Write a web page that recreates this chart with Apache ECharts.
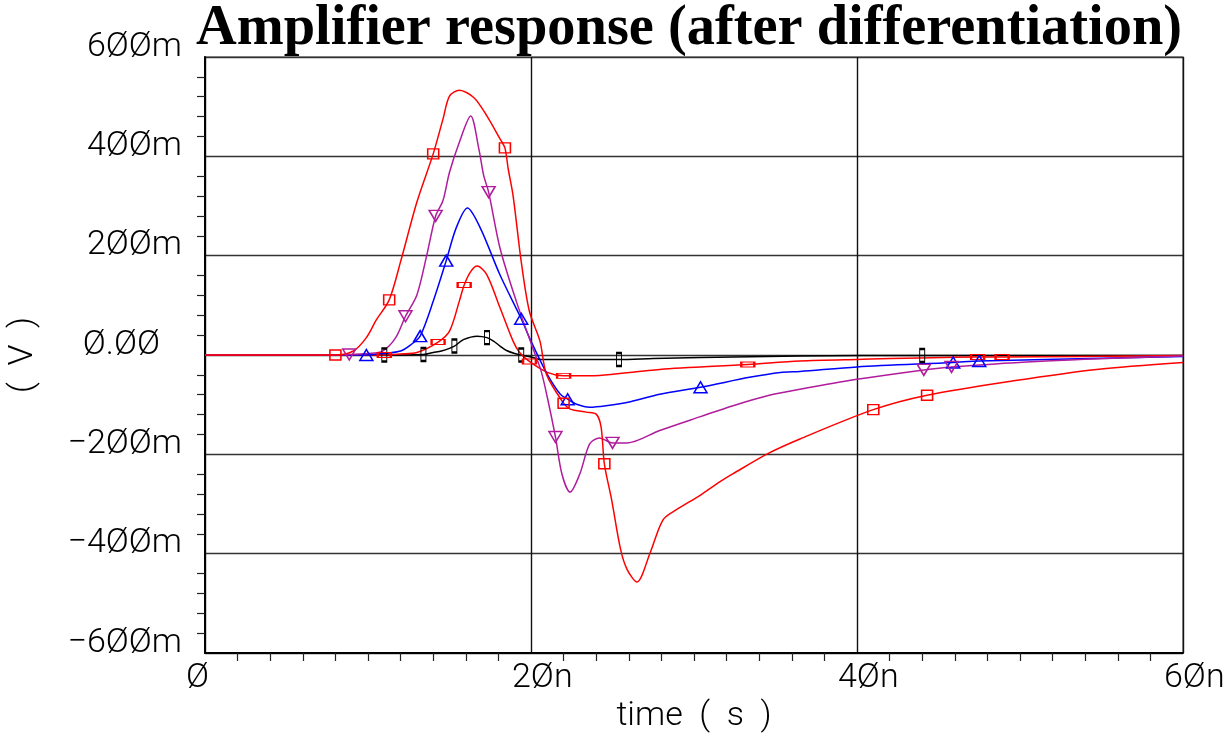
<!DOCTYPE html>
<html>
<head>
<meta charset="utf-8">
<script src="https://cdn.jsdelivr.net/npm/echarts@6/dist/echarts.min.js"></script>
<style>
  html, body { margin: 0; padding: 0; background: #fff; }
  #chart { width: 1229px; height: 734px; }
</style>
</head>
<body>
<div id="chart"></div>
<script>
// Time in ns, amplitude in mV.
const xTickValues = [0, 20, 40, 60];
const xTickLabels = ['Ø', '2Øn', '4Øn', '6Øn'];
const yTickValues = [-600, -400, -200, 0, 200, 400, 600];
const yTickLabels = ['−6ØØm', '−4ØØm', '−2ØØm', 'Ø.ØØ', '2ØØm', '4ØØm', '6ØØm'];

// Largest response (red, square markers)
const redSquareCurve = [
  [0, 0], [6, 0], [8.0, 0], [9.1, 8], [9.9, 35], [10.5, 70], [11.3, 111], [12.0, 188],
  [13.0, 308], [14.0, 405], [14.6, 475], [15.0, 521], [15.6, 533], [16.5, 518],
  [17.3, 481], [18.1, 435], [18.4, 417], [18.6, 375], [18.9, 321], [19.4, 188],
  [19.9, 88], [20.55, 28], [20.95, -39], [22.0, -97], [22.4, -109], [23.4, -115],
  [24.0, -119], [24.3, -145], [24.5, -219], [24.95, -292], [25.5, -392], [25.9, -432],
  [26.5, -457], [27.3, -399], [28.1, -332], [28.9, -312], [30.4, -282], [31.6, -255],
  [32.4, -239], [34.5, -199], [36.5, -169], [41.0, -110], [44.3, -81], [49.6, -52],
  [54.7, -29], [60, -15]
];
const redSquareMarks = [8.0, 11.3, 14.0, 18.4, 22.0, 24.5, 41.0, 44.3];

// Magenta, down-triangle markers
const magentaCurve = [
  [0, 0], [7, 0], [8.85, 1], [10.0, 3], [10.9, 8], [11.7, 35], [12.3, 78], [13.0, 121],
  [13.6, 200], [14.15, 280], [14.6, 311], [15.0, 368], [15.6, 428], [16.3, 481],
  [16.8, 415], [17.1, 361], [17.4, 328], [18.1, 215], [19.1, 108], [20.1, 15],
  [20.6, -30], [21.0, -85], [21.5, -165], [21.9, -240], [22.4, -276], [23.0, -239],
  [23.6, -179], [24.2, -167], [25.0, -177], [25.9, -177], [27.9, -152], [30.4, -124],
  [32.4, -102], [34.5, -82], [36.5, -69], [40.0, -49], [44.1, -30], [45.8, -24],
  [51.6, -12], [60, -2]
];
const magentaMarks = [8.85, 12.3, 14.15, 17.4, 21.5, 25.0, 44.1, 45.8];

// Blue, up-triangle markers
const blueCurve = [
  [0, 0], [7, 0], [9.9, 0], [11.0, 3], [12.0, 8], [12.6, 20], [13.2, 38], [14.0, 108],
  [14.8, 190], [15.4, 255], [16.1, 296], [16.9, 255], [18.1, 161], [19.4, 73],
  [20.0, 28], [21.0, -39], [21.8, -79], [22.25, -89], [22.8, -99], [23.6, -105],
  [24.6, -102], [26.1, -94], [27.9, -79], [30.4, -65], [33.4, -45], [35.3, -35],
  [36.5, -33], [40.0, -24], [45.9, -15], [47.5, -12], [60, -3]
];
const blueMarks = [9.9, 13.2, 14.8, 19.4, 22.25, 30.4, 45.9, 47.5];

// Smaller red response, flat rectangle markers
const redDashCurve = [
  [0, 0], [9, 0], [11.0, 0], [12.0, 2], [13.0, 5], [14.3, 26], [15.0, 48], [15.6, 108],
  [15.9, 141], [16.3, 168], [16.7, 179], [17.3, 161], [18.1, 95], [18.9, 28],
  [19.3, 5], [19.9, -13], [21.0, -35], [22.0, -42], [23.4, -42], [27.9, -29],
  [33.3, -19], [36.5, -12], [40.0, -9], [47.4, -4], [48.9, -4], [60, -1]
];
const redDashMarks = [11.0, 14.3, 15.9, 19.9, 22.0, 33.3, 47.4, 48.9];

// Smallest response (black, tall rectangle markers)
const blackCurve = [
  [0, 0], [9, 0], [11.0, 0], [13.4, 1], [14.0, 5], [14.5, 8], [15.3, 18], [15.85, 31],
  [16.7, 38], [17.3, 35], [17.7, 28], [18.1, 18], [18.5, 9], [19.0, 3], [19.4, 0],
  [20.1, -5], [20.6, -9], [21.2, -9], [25.4, -9], [27.5, -7], [30.4, -5], [36.5, -2],
  [44.0, -1], [60, -1]
];
const blackMarks = [11.0, 13.4, 15.3, 17.3, 19.4, 25.4, 44.0];

const tickFont = 'Roboto';

function buildSeries(curve, marks, color, symbol, size, rotate) {
  return {
    type: 'line',
    smooth: 0.3,
    showSymbol: true,
    symbol: symbol,
    symbolSize: size,
    symbolRotate: rotate || 0,
    lineStyle: { color: color, width: 1.5 },
    itemStyle: { color: 'rgba(0,0,0,0)', borderColor: color, borderWidth: 1.5 },
    emphasis: { disabled: true },
    animation: false,
    data: curve.map(function (p) {
      const marked = marks.indexOf(p[0]) !== -1;
      return marked ? { value: p } : { value: p, symbol: 'none' };
    })
  };
}

const chart = echarts.init(document.getElementById('chart'), null, { renderer: 'canvas' });
chart.setOption({
  backgroundColor: '#ffffff',
  animation: false,
  title: {
    text: 'Amplifier response (after differentiation)',
    left: 191,
    top: -4,
    textStyle: {
      fontFamily: 'Liberation Serif',
      fontWeight: 'bold',
      fontSize: 56.4,
      color: '#000'
    }
  },
  grid: {
    left: 205, right: 46, top: 57, bottom: 81,
    containLabel: false,
    outerBoundsMode: 'none',
    show: true, borderColor: '#777', borderWidth: 1.5
  },
  xAxis: {
    type: 'value',
    min: 0, max: 60, interval: 20,
    minorTick: { show: true, splitNumber: 10, length: 8, lineStyle: { color: '#222', width: 1.2 } },
    axisTick: { show: false },
    axisLine: { show: true, onZero: false, lineStyle: { color: '#000', width: 2 } },
    splitLine: { show: true, lineStyle: { color: '#111', width: 1.4 } },
    axisLabel: {
      margin: 8,
      align: 'left',
      padding: [0, 0, 0, -19],
      fontFamily: tickFont, fontWeight: 300, fontSize: 34, color: '#000',
      showMinLabel: true, showMaxLabel: true,
      formatter: function (v) { return xTickLabels[xTickValues.indexOf(v)]; }
    },
    name: 'time  (  s  )',
    nameLocation: 'middle',
    nameGap: 44,
    nameTextStyle: { fontFamily: tickFont, fontWeight: 300, fontSize: 34, color: '#000' }
  },
  yAxis: {
    type: 'value',
    min: -600, max: 600, interval: 200,
    minorTick: { show: true, splitNumber: 5, length: 8, lineStyle: { color: '#222', width: 1.2 } },
    axisTick: { show: false },
    axisLine: { show: true, onZero: false, lineStyle: { color: '#000', width: 2 } },
    splitLine: { show: true, lineStyle: { color: '#333', width: 1.4 } },
    axisLabel: {
      margin: 23,
      verticalAlign: 'middle',
      padding: [0, 0, 20, 0],
      fontFamily: tickFont, fontWeight: 300, fontSize: 34, color: '#000',
      formatter: function (v) {
        const s = yTickLabels[yTickValues.indexOf(v)];
        return v === 0 ? '{z|' + s + '}' : s;
      },
      rich: {
        z: { fontFamily: tickFont, fontWeight: 300, fontSize: 34, color: '#000', padding: [0, 22, 0, 0] }
      }
    },
    name: '(  V  )',
    nameLocation: 'middle',
    nameRotate: 90,
    nameGap: 165,
    nameTextStyle: { fontFamily: tickFont, fontWeight: 300, fontSize: 34, color: '#000' }
  },
  series: [
    buildSeries(blackCurve, blackMarks, '#000000', 'rect', [5, 13]),
    buildSeries(redDashCurve, redDashMarks, '#ff0000', 'rect', [13, 5]),
    buildSeries(blueCurve, blueMarks, '#0000ff', 'triangle', [13, 11]),
    buildSeries(magentaCurve, magentaMarks, '#b01c9c', 'triangle', [13, 11], 180),
    buildSeries(redSquareCurve, redSquareMarks, '#ff0000', 'rect', [11, 10])
  ]
});
</script>
</body>
</html>
